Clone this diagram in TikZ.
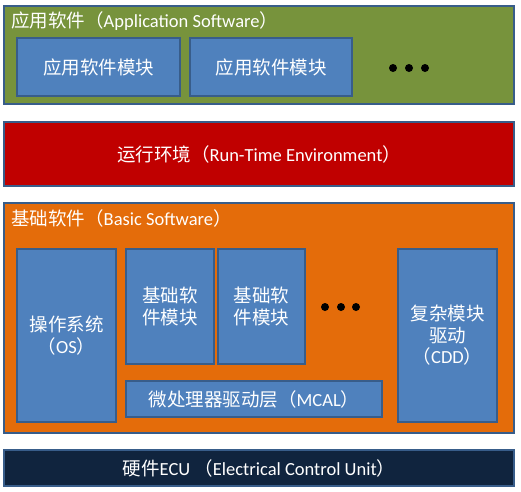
\documentclass[tikz,border=0pt]{standalone}
\usepackage{fontspec}
\setmainfont{Carlito}
\newfontfamily\cjk{Noto Sans CJK SC}
\newcommand\zh[1]{{\cjk #1}}
\definecolor{appgreen}{HTML}{77933C}
\definecolor{modblue}{HTML}{4F81BD}
\definecolor{edgeblue}{HTML}{385D8A}
\definecolor{rtered}{HTML}{C00000}
\definecolor{bsworange}{HTML}{E46C0A}
\definecolor{ecunavy}{HTML}{10243E}

\begin{document}
\begin{tikzpicture}[x=1pt,y=-1pt,
    layer/.style={draw=edgeblue, line width=1.2pt, rectangle, inner sep=0pt,
                  text=white, font=\fontsize{18.5}{21.5}\selectfont},
    modbox/.style={draw=edgeblue, line width=1.2pt, fill=modblue, text=white,
                   align=center, inner sep=0pt, font=\fontsize{18.5}{21.5}\selectfont},
    caption/.style={text=white, anchor=west, inner sep=0pt,
                    font=\fontsize{18.5}{21.5}\selectfont},
    dot/.style={circle, fill=black, minimum size=8pt, inner sep=0pt}]
  \useasboundingbox (0,0) rectangle (521,491);
  % ----------------------------
  % the four layers of the stack
  % ----------------------------
  \node[layer, fill=appgreen, minimum width=510pt, minimum height=98pt] (app) at (259,55) {};
  \node[layer, fill=rtered, minimum width=510pt, minimum height=64pt] (rte) at (259,154)
    {\zh{运行环境（}Run-Time Environment\zh{）}};
  \node[layer, fill=bsworange, minimum width=510pt, minimum height=230pt] (bsw) at (259,318) {};
  \node[layer, fill=ecunavy, minimum width=510pt, minimum height=36pt] (ecu) at (259,468)
    {\zh{硬件}ECU \zh{（}Electrical Control Unit\zh{）}};
  \node[caption] (apptitle) at (11,21) {\zh{应用软件（}Application Software\zh{）}};
  \node[caption] (bswtitle) at (11,218) {\zh{基础软件（}Basic Software\zh{）}};
  % --------------------------
  % application software layer
  % --------------------------
  \node[modbox, minimum width=163pt, minimum height=58pt] (appmodA) at (98.5,67) {\zh{应用软件模块}};
  \node[modbox, minimum width=162pt, minimum height=58pt] (appmodB) at (271,67) {\zh{应用软件模块}};
  \foreach \i/\x in {1/393,2/409,3/425}
    \node[dot] (appdot\i) at (\x,68) {};
  % -------------------
  % basic software layer
  % -------------------
  \node[modbox, minimum width=99pt, minimum height=173pt] (os) at (66.5,335.5) {\zh{操作系统}\\\zh{（}OS\zh{）}};
  \node[modbox, minimum width=88pt, minimum height=115pt] (bswmodA) at (170,306.5) {\zh{基础软}\\\zh{件模块}};
  \node[modbox, minimum width=87pt, minimum height=115pt] (bswmodB) at (261.5,306.5) {\zh{基础软}\\\zh{件模块}};
  \foreach \i/\x in {1/325,2/341,3/356}
    \node[dot] (bswdot\i) at (\x,307) {};
  \node[modbox, minimum width=256pt, minimum height=36pt] (mcal) at (254,399) {\zh{微处理器驱动层（}MCAL\zh{）}};
  \node[modbox, minimum width=99pt, minimum height=173pt] (cdd) at (447.5,335.5) {\zh{复杂模块}\\\zh{驱动}\\\zh{（}CDD\zh{）}};
\end{tikzpicture}
\end{document}
